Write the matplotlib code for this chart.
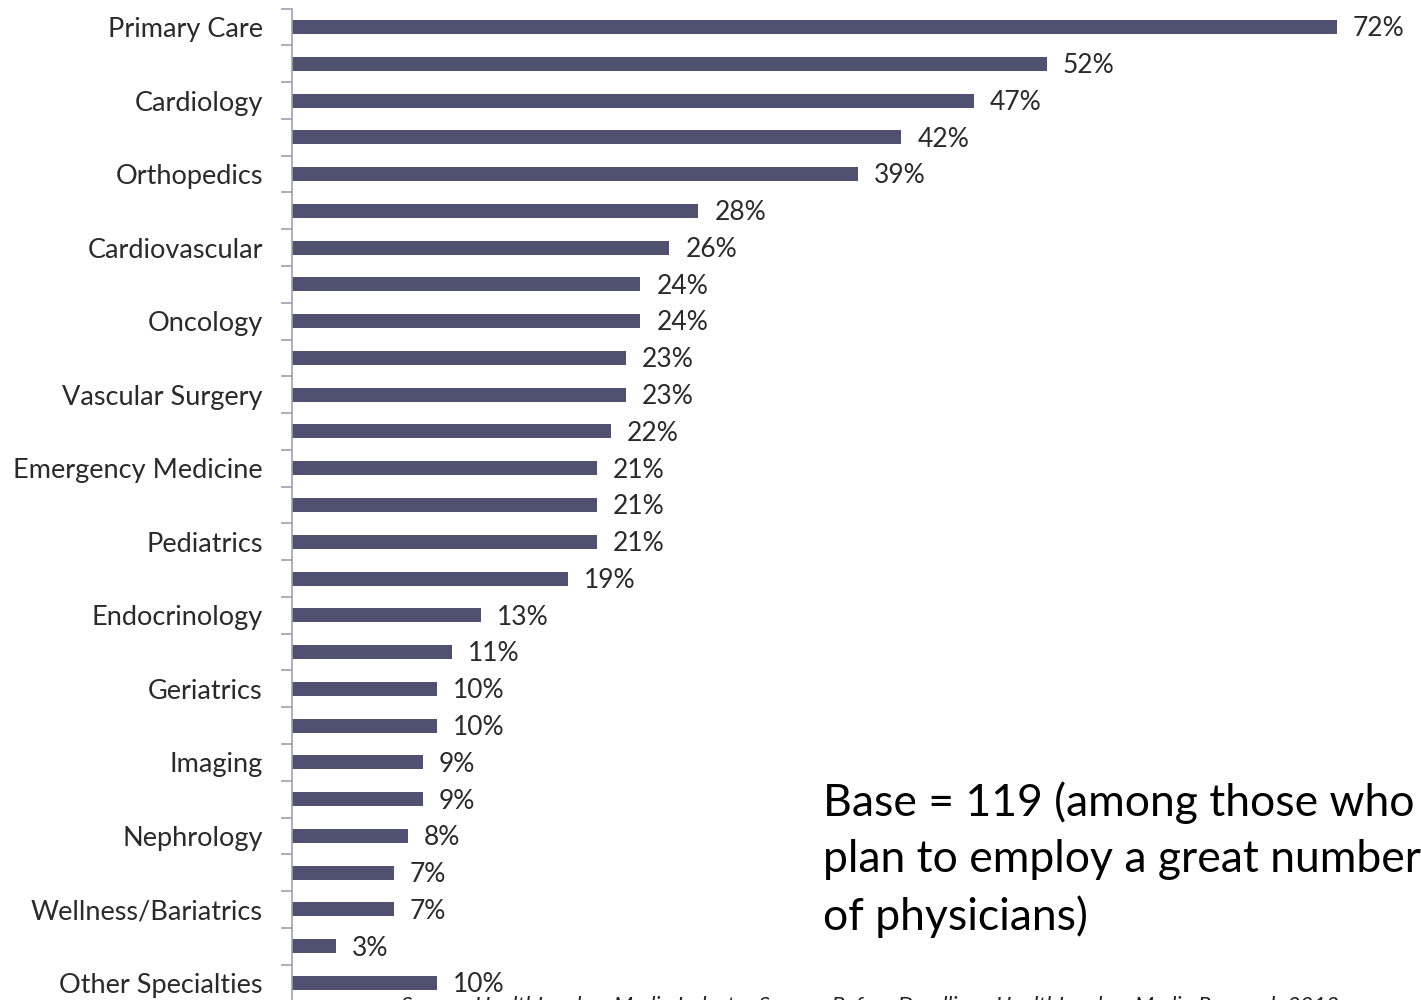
import numpy as np
import matplotlib.pyplot as plt

labels = ["Primary Care", "", "Cardiology", "", "Orthopedics", "", "Cardiovascular", "",
          "Oncology", "", "Vascular Surgery", "", "Emergency Medicine", "", "Pediatrics", "",
          "Endocrinology", "", "Geriatrics", "", "Imaging", "", "Nephrology", "",
          "Wellness/Bariatrics", "", "Other Specialties"]
values = [72, 52, 47, 42, 39, 28, 26, 24, 24, 23, 23, 22, 21, 21, 21, 19,
          13, 11, 10, 10, 9, 9, 8, 7, 7, 3, 10]

note = "Base = 119 (among those who\nplan to employ a great number\nof physicians)"
source = "Source: HealthLeaders Media Industry Survey: Before Deadline   HealthLeaders Media Research 2012"

plt.rcParams['font.family'] = ['Lato', 'DejaVu Sans']

fig = plt.figure(figsize=(14.21, 10), dpi=100)
ax = fig.add_axes([0.2055, -0.0014, 0.7945, 0.9928])

y = np.arange(len(values))
ax.barh(y, values, height=0.38, color='#505070')
ax.set_ylim(len(values) - 0.5, -0.5)
ax.set_xlim(0, 77.8)

for yi, v in zip(y, values):
    ax.text(v + 1.1, yi + 0.05, f"{v}%", va='center', ha='left', fontsize=19, color='#2a2a2a')

ax.set_yticks(y)
ax.set_yticklabels(labels, fontsize=19.5, color='#2a2a2a')
ax.tick_params(axis='y', which='major', length=0, pad=21)
ax.set_yticks(np.arange(-0.5, len(values) - 0.4, 1), minor=True)
ax.tick_params(axis='y', which='minor', length=8, color='#a0a0b0', width=1.2)
ax.set_xticks([])

for s in ['top', 'right', 'bottom']:
    ax.spines[s].set_visible(False)
ax.spines['left'].set_color('#a0a0b0')
ax.spines['left'].set_linewidth(1.2)

fig.text(0.579, 0.219, note, fontsize=32, va='top', ha='left', linespacing=1.45, color='black')
fig.text(0.282, 0.0035, source, fontsize=16, style='italic', va='top', ha='left', color='#222222')

fig.savefig('out.png', dpi=100)
